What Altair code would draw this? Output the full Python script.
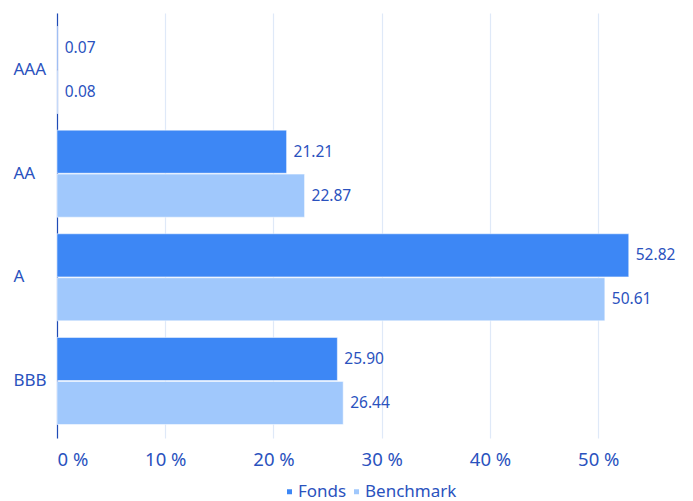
import altair as alt
import pandas as pd

categories = ["AAA", "AA", "A", "BBB"]
fonds = [0.07, 21.21, 52.82, 25.90]
benchmark = [0.08, 22.87, 50.61, 26.44]
series = ["Fonds", "Benchmark"]
colors = ["#3d87f5", "#a0c8fc"]

rows = []
for c, f, b in zip(categories, fonds, benchmark):
    rows.append({"cat": c, "series": "Fonds", "value": f})
    rows.append({"cat": c, "series": "Benchmark", "value": b})
df = pd.DataFrame(rows)

FONT = "Noto Sans"
TXT = "#2a52be"

y = alt.Y("cat:N", sort=categories, title=None,
          scale=alt.Scale(paddingInner=0.16, paddingOuter=0.13),
          axis=alt.Axis(domainColor="#1f4bb5", domainWidth=1.2, ticks=False, grid=False,
                        labelFontSize=17, labelColor=TXT, labelFont=FONT, labelPadding=44,
                        labelAlign="left"))
yoff = alt.YOffset("series:N", sort=series, scale=alt.Scale(paddingInner=0.02))
x = alt.X("value:Q", title=None,
          scale=alt.Scale(domain=[0, 57], nice=False),
          axis=alt.Axis(values=[0, 10, 20, 30, 40, 50], labelExpr="datum.value + ' %'",
                        domain=False, ticks=False, gridColor="#dfe9f8", gridWidth=1.2,
                        labelFontSize=18.5, labelColor=TXT, labelFont=FONT, labelPadding=12))

bars = alt.Chart(df).mark_bar(stroke="white", strokeOpacity=0.5, strokeWidth=1).encode(
    x=x, y=y, yOffset=yoff,
    color=alt.Color("series:N", sort=series, scale=alt.Scale(domain=series, range=colors),
                    legend=alt.Legend(title=None, orient="none", legendX=224, legendY=470,
                                      direction="horizontal", symbolType="square",
                                      symbolSize=25, labelFontSize=17, labelColor=TXT,
                                      labelFont=FONT, columnPadding=1, symbolStrokeWidth=0,
                                      labelOffset=0)),
)

labels = alt.Chart(df).mark_text(align="left", baseline="middle", dx=7, fontSize=15.5,
                                 color=TXT, font=FONT).encode(
    x="value:Q", y=alt.Y("cat:N", sort=categories), yOffset=yoff,
    text=alt.Text("value:Q", format=".2f"),
)

chart = (bars + labels).properties(width=617, height=425).configure_view(stroke=None)
chart.save("out.html", embed_options={"renderer": "svg", "actions": False})
